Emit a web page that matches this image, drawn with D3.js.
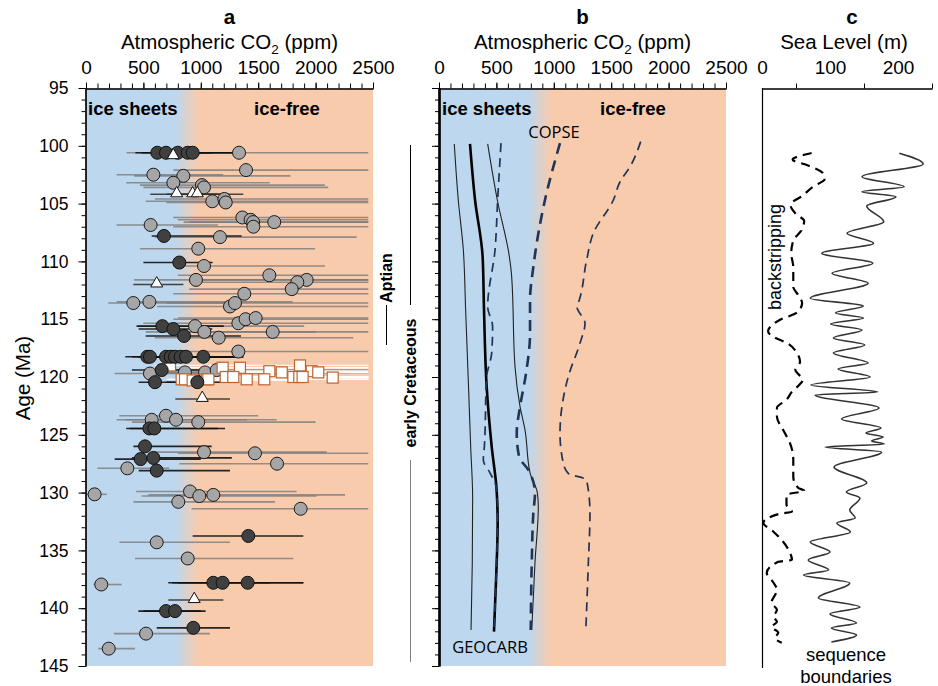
<!DOCTYPE html>
<html><head><meta charset="utf-8">
<script src="https://cdn.jsdelivr.net/npm/d3@7"></script>
<style>body{margin:0;background:#fff}svg{display:block}</style>
</head><body><svg id="chart" width="938" height="686"></svg>
<script>
// ---------------- data ----------------
const ageMajor = [95,100,105,110,115,120,125,130,135,140,145];
const co2Ticks = [0,500,1000,1500,2000,2500];
const seaTicks = [0,100,200];
const seaMinor = [50,150,250];
const iceEdge = [780,975]; // ppm range of the ice-sheet / ice-free transition

// panel a proxies: [age Ma, CO2 ppm, low, high]
const grayPts = [
[100.6,1333,354,2459],[102.1,1394,761,2459],[102.5,587,267,1196],[102.6,848,420,1780],
[103.2,761,350,1600],[103.4,1010,470,2080],[103.6,1028,500,2110],[104.8,1100,520,2459],
[104.6,1205,600,2459],[104.9,1217,700,2459],[106.2,1362,760,2459],[106.4,1434,800,2459],
[106.6,1456,850,2459],[107.0,1458,760,2459],[106.6,1640,900,2459],[106.85,563,267,1150],
[107.9,1167,600,2358],[108.9,978,470,1995],[110.4,1028,761,2082],[111.2,1597,800,2459],
[111.6,958,420,2459],[111.6,1922,1000,2459],[111.8,1841,900,2459],[112.4,1792,900,2459],
[112.8,1379,760,2459],[113.6,412,194,1200],[113.5,552,267,1800],[113.9,1254,620,2459],
[113.6,1298,700,2459],[115.35,1327,500,2459],[115.0,1390,761,2459],[114.9,1478,800,2459],
[115.6,950,459,1900],[116.1,1031,520,2000],[116.6,1156,600,2329],[116.1,1626,900,2459],
[117.8,1327,761,2459],[119.7,557,250,2000],[119.6,862,500,2300],[119.6,1037,600,2459],
[119.4,1138,700,2459],[123.7,572,267,1400],[123.35,697,290,1500],[123.7,784,342,1661],
[123.9,978,400,2000],[126.5,1028,600,2096],[126.6,1472,800,2459],[127.5,1664,813,2459],
[127.9,360,100,726],[130.15,75,0,181],[129.9,906,436,1835],[130.3,987,485,2009],
[130.2,1109,543,2256],[130.8,804,413,1646],[131.4,1870,920,2459],[134.3,616,290,1254],
[135.7,886,427,1806],[137.95,133,64,311],[142.2,523,244,1080],[143.5,198,107,427]
];
const darkPts = [
[100.6,621,485,1000],[100.6,697,430,1100],[100.6,799,560,1280],[100.6,886,620,1000],
[100.6,929,650,1280],[107.8,679,572,1356],[110.1,813,500,1103],[115.6,665,440,1200],
[115.85,761,459,1100],[116.45,854,520,1350],[118.25,534,342,1370],[118.25,557,400,1100],
[118.25,697,450,1200],[118.25,738,500,1250],[118.25,775,500,1300],[118.25,825,550,1370],
[118.25,871,600,1300],[118.25,1022,700,1370],[119.4,659,400,1000],[120.45,601,459,900],
[120.45,970,700,1300],[124.45,552,350,1211],[124.45,595,380,1150],[126.0,514,413,1095],
[127.1,476,250,1000],[127.0,587,400,1270],[128.1,616,459,1254],[133.75,1414,929,1893],
[137.8,1109,717,1893],[137.8,1190,750,1600],[137.8,1408,800,1893],[140.25,697,456,1042],
[140.25,775,500,1000],[141.7,935,616,1254]
];
const triPts = [
[100.9,760,580,960],[104.2,790,560,1370],[104.2,929,700,1150],[104.2,970,750,1200],
[112.0,616,412,848],[121.9,1013,778,1254],[139.3,943,717,1196]
];
const sqPts = [
[119.0,732,600,1300],[119.2,1190,900,2459],[119.2,1341,1000,2459],[119.0,1864,1200,2459],
[119.5,1597,1100,2459],[119.6,1705,1150,2459],[119.5,1966,1300,2459],[119.6,2023,1400,2459],
[120.2,833,700,1500],[120.2,862,720,1700],[120.3,929,780,1800],[120.2,1052,850,2459],
[120.2,1066,860,2459],[120.0,1217,900,2459],[120.0,1283,950,2459],[120.2,1400,1000,2459],
[120.2,1553,1050,2459],[120.0,1806,1200,2459],[120.0,1858,1250,2459],[120.0,1887,1300,2459],
[120.05,2149,1500,2459]
];

// panel b model curves: [age Ma, CO2 ppm]
const geocarbLow = [[99.84,133],[104.69,168],[109.01,212],[114.2,232],[120.52,256],[126.06,276],[130.38,293],[136.09,290],[141.89,279]];
const geocarbMid = [[99.84,270],[104.69,314],[109.59,380],[114.2,392],[120.81,415],[126.03,459],[129.78,502],[132.63,511],[137.56,497],[142.03,479]];
const geocarbHigh = [[99.84,424],[104.69,508],[109.59,613],[111.32,633],[119.1,662],[122.56,706],[124.57,749],[128.29,793],[130.02,857],[131.21,865],[136.07,836],[141.89,808]];
const copseLow = [[99.77,540],[104.69,511],[109.01,488],[113.92,424],[115.65,467],[117.92,459],[119.97,415],[126.03,395],[127.18,386],[128.29,444],[129.48,497],[131.75,511],[136.07,502],[141.89,479]];
const copseMid = [[99.77,1054],[104.69,923],[110.46,822],[113.35,793],[116.23,793],[119.69,758],[122.56,706],[124.84,677],[126.89,697],[128.04,778],[130.05,836],[131.75,822],[136.07,808],[141.89,799]];
const copseHigh = [[99.64,1757],[101.81,1664],[103.11,1577],[104.69,1519],[107.57,1344],[109.88,1286],[113.34,1222],[113.92,1202],[115.35,1272],[117.08,1228],[119.97,1126],[124.87,1054],[127.47,1083],[128.33,1126],[128.91,1286],[131.79,1315],[136.09,1301],[141.6,1280]];

// panel c sea level
const seqAge = [100.65,101.57,102.67,103.54,103.97,104.40,105.21,106.57,107.57,108.43,109.30,110.16,111.03,111.89,113.19,113.86,114.46,114.90,115.42,115.93,116.63,117.23,117.92,118.79,119.31,120.00,120.69,121.30,121.56,122.68,123.63,124.41,124.84,125.19,125.54,125.80,126.06,126.49,127.79,129.17,129.95,130.47,131.51,132.20,132.63,133.41,134.27,135.14,135.83,136.70,137.13,137.82,139.12,139.90,140.50,141.28,141.71,142.32,142.92];
const seqSL = [202,237,147,209,147,197,154,179,125,164,88,163,103,156,71,149,108,149,101,147,105,151,105,156,112,159,72,170,78,172,117,175,153,178,161,180,93,176,106,154,124,144,129,137,110,130,71,100,68,98,61,129,83,144,100,139,102,139,102];
const bsAge = [100.62,101.2,101.66,102.4,102.9,103.5,104.3,105.1,105.9,106.5,107.3,108.2,109.3,110.5,112.2,112.9,113.6,114.4,115.07,116.06,116.6,117.04,117.9,118.68,119.38,120.24,120.67,121.28,121.97,122.66,123.44,124.57,125.69,127.16,128.63,129.58,129.84,130.19,131.06,131.66,131.83,132.61,133.39,133.91,134.95,135.81,135.99,136.94,137.8,138.41,139.53,140.14,140.74,141.18,141.61,142.13,142.56,142.99];
const bsSL = [73,45,66,90,92,76,60,42,50,62,58,46,43,46,46,53,59,52,26,9,19,36,51,56,49,60,55,44,36,22,22,31,41,46,46,53,62,36,36,44,26,2,17,26,39,44,24,7,17,22,14,22,17,22,14,24,19,29];

// ---------------- drawing ----------------
const FONT = '"Liberation Sans", Arial, Helvetica, sans-serif';
const svg = d3.select('#chart');
const defs = svg.append('defs');
const y = d3.scaleLinear().domain([95,145]).range([88,666]);
const xa = d3.scaleLinear().domain([0,2500]).range([86,373]);
const xb = d3.scaleLinear().domain([0,2500]).range([439,726]);
const xc = d3.scaleLinear().domain([0,250]).range([762,932]);
const fmt = d3.format('d');

function background(x, id){
  const g = defs.append('linearGradient').attr('id', id).attr('gradientUnits','userSpaceOnUse')
    .attr('x1', x(iceEdge[0])).attr('x2', x(iceEdge[1])).attr('y1', 0).attr('y2', 0);
  g.append('stop').attr('offset', 0).attr('stop-color', '#bdd7ee');
  g.append('stop').attr('offset', 1).attr('stop-color', '#f8cbad');
  svg.append('rect').attr('x', x(0)).attr('y', y(95)).attr('width', x(2500)-x(0))
    .attr('height', y(145)-y(95)).attr('fill', `url(#${id})`);
}
background(xa, 'gA');
background(xb, 'gB');

function styleAxis(g, size){
  g.attr('font-family', FONT).attr('font-size', size);
  g.selectAll('line').attr('stroke', '#000');
  g.selectAll('path').attr('stroke', '#000');
  g.selectAll('text').attr('fill', '#000');
}

// ---- panel a marks ----
const pa = svg.append('g');
function bars(data, color, width, op){
  pa.append('g').selectAll('line').data(data).join('line')
    .attr('x1', d => xa(d[2])).attr('x2', d => xa(d[3]))
    .attr('y1', d => y(d[0])).attr('y2', d => y(d[0]))
    .attr('stroke', color).attr('stroke-width', width).attr('stroke-opacity', op);
}
bars(grayPts, '#7a7a7a', 1.6, 0.8);
bars(triPts, '#333', 1.5, 0.9);
bars(darkPts, '#111', 1.6, 0.9);
bars(sqPts, '#ffffff', 1.3, 0.85);

pa.append('g').selectAll('circle').data(grayPts).join('circle')
  .attr('cx', d => xa(d[1])).attr('cy', d => y(d[0])).attr('r', 6.5)
  .attr('fill', '#a6a6a6').attr('stroke', '#1a1a1a').attr('stroke-width', 1);
pa.append('g').selectAll('rect').data(sqPts).join('rect')
  .attr('x', d => xa(d[1]) - 5.5).attr('y', d => y(d[0]) - 5.5).attr('width', 11).attr('height', 11)
  .attr('fill', '#fff').attr('stroke', '#c0622a').attr('stroke-width', 1.2);
pa.append('g').selectAll('circle').data(darkPts).join('circle')
  .attr('cx', d => xa(d[1])).attr('cy', d => y(d[0])).attr('r', 6.5)
  .attr('fill', '#404040').attr('stroke', '#111').attr('stroke-width', 1);
const tri = d3.symbol().type(d3.symbolTriangle).size(62);
pa.append('g').selectAll('path').data(triPts).join('path')
  .attr('d', tri).attr('transform', d => `translate(${xa(d[1])},${y(d[0])-1})`)
  .attr('fill', '#fff').attr('stroke', '#111').attr('stroke-width', 1);

// ---- panel b curves ----
const lineB = d3.line().x(d => xb(d[1])).y(d => y(d[0])).curve(d3.curveMonotoneY);
const curves = [
  {d: geocarbLow, c: '#222', w: 1.1, dash: null},
  {d: geocarbHigh, c: '#222', w: 1.1, dash: null},
  {d: geocarbMid, c: '#000', w: 2.6, dash: null},
  {d: copseLow, c: '#1f3457', w: 1.7, dash: '9,6'},
  {d: copseHigh, c: '#1f3457', w: 1.7, dash: '9,6'},
  {d: copseMid, c: '#1f3457', w: 2.6, dash: '11,7'}
];
svg.append('g').selectAll('path').data(curves).join('path')
  .attr('d', d => lineB(d.d)).attr('fill', 'none').attr('stroke', d => d.c)
  .attr('stroke-width', d => d.w).attr('stroke-dasharray', d => d.dash);

// ---- panel c curves ----
const lineC = d3.line().x(d => xc(d[1])).y(d => y(d[0])).curve(d3.curveMonotoneY);
svg.append('path').attr('d', lineC(d3.zip(seqAge, seqSL))).attr('fill', 'none')
  .attr('stroke', '#333').attr('stroke-width', 1.6);
svg.append('path').attr('d', lineC(d3.zip(bsAge, bsSL))).attr('fill', 'none')
  .attr('stroke', '#000').attr('stroke-width', 2.2).attr('stroke-dasharray', '9,6');

// ---- axes ----
function co2Axes(x){
  const m = svg.append('g').attr('transform', 'translate(0,88.5)')
    .call(d3.axisTop(x).tickValues(d3.range(0, 2501, 100)).tickSize(5).tickSizeOuter(0).tickFormat(''));
  styleAxis(m, 19);
  const M = svg.append('g').attr('transform', 'translate(0,88.5)')
    .call(d3.axisTop(x).tickValues(co2Ticks).tickSize(6).tickPadding(9).tickSizeOuter(0).tickFormat(fmt));
  styleAxis(M, 19);
}
co2Axes(xa); co2Axes(xb);

function ageAxes(xpos, labels, w){
  const m = svg.append('g').attr('transform', `translate(${xpos},0)`)
    .call(d3.axisLeft(y).tickValues(d3.range(95, 146, 1)).tickSize(4).tickSizeOuter(0).tickFormat(''));
  styleAxis(m, 17.5);
  const M = svg.append('g').attr('transform', `translate(${xpos},0)`)
    .call(d3.axisLeft(y).tickValues(ageMajor).tickSize(7).tickPadding(10).tickSizeOuter(0)
      .tickFormat(labels ? fmt : ''));
  styleAxis(M, 17.5);
  M.select('.domain').attr('stroke-width', w);
  m.select('.domain').attr('stroke-width', w);
}
ageAxes(85.5, true, 1.2);
ageAxes(439, false, 2.2);

// panel c axes
const cm = svg.append('g').attr('transform', 'translate(0,88.5)')
  .call(d3.axisTop(xc).tickValues(seaMinor).tickSize(5).tickSizeOuter(0).tickFormat(''));
styleAxis(cm, 19);
const cM = svg.append('g').attr('transform', 'translate(0,88.5)')
  .call(d3.axisTop(xc).tickValues(seaTicks).tickSize(0).tickPadding(15).tickSizeOuter(0).tickFormat(fmt));
styleAxis(cM, 19);
svg.append('line').attr('x1', 762.5).attr('x2', 762.5).attr('y1', 88).attr('y2', 668)
  .attr('stroke', '#000').attr('stroke-width', 1.2);

// ---- texts ----
function txt(x, yy, s, size, opts = {}){
  const t = svg.append('text').attr('x', x).attr('y', yy).attr('font-family', opts.family || FONT)
    .attr('font-size', size).attr('text-anchor', opts.anchor || 'middle')
    .attr('font-weight', opts.bold ? 'bold' : 'normal').attr('fill', opts.fill || '#000');
  if (opts.rotate) t.attr('transform', `rotate(-90,${x},${yy})`);
  t.text(s);
  return t;
}
function co2Title(cx){
  const t = svg.append('text').attr('x', cx).attr('y', 48.5).attr('font-family', FONT)
    .attr('font-size', 20.5).attr('text-anchor', 'middle');
  t.append('tspan').text('Atmospheric CO');
  t.append('tspan').attr('font-size', 13.5).attr('dy', 5).text('2');
  t.append('tspan').attr('dy', -5).text(' (ppm)');
}
txt(229.5, 24, 'a', 20.5, {bold: true});
txt(582.5, 24, 'b', 20.5, {bold: true});
txt(852, 24, 'c', 20.5, {bold: true});
co2Title(229.5); co2Title(582.5);
txt(844, 48.5, 'Sea Level (m)', 20.5);
txt(30, 378, 'Age (Ma)', 20.5, {rotate: true});

txt(88, 114.5, 'ice sheets', 18.5, {bold: true, anchor: 'start'});
txt(287, 114.5, 'ice-free', 18.5, {bold: true});
txt(442, 114.5, 'ice sheets', 18.5, {bold: true, anchor: 'start'});
txt(633, 114.5, 'ice-free', 18.5, {bold: true});

const CAL = '"Open Sans", "Noto Sans", sans-serif';
txt(554, 138, 'COPSE', 16.5, {family: CAL});
txt(490, 653, 'GEOCARB', 16.5, {family: CAL});

txt(781, 257, 'backstripping', 18, {rotate: true});
txt(846, 661, 'sequence', 18.5);
txt(846, 683, 'boundaries', 18.5);

// stage annotations
txt(392, 278, 'Aptian', 16, {bold: true, rotate: true});
txt(416, 383, 'early Cretaceous', 16, {bold: true, rotate: true});
svg.append('line').attr('x1', 386.5).attr('x2', 386.5).attr('y1', 305).attr('y2', 345).attr('stroke', '#000');
svg.append('line').attr('x1', 410.5).attr('x2', 410.5).attr('y1', 145).attr('y2', 305).attr('stroke', '#000');
svg.append('line').attr('x1', 410.5).attr('x2', 410.5).attr('y1', 460).attr('y2', 662).attr('stroke', '#808080');
</script></body></html>
